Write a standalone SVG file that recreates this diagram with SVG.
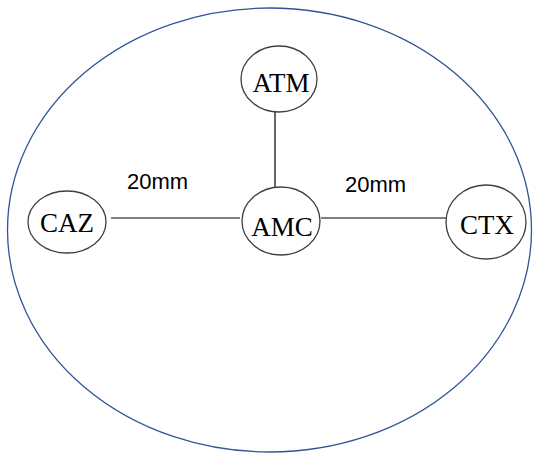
<svg xmlns="http://www.w3.org/2000/svg" width="534" height="457" viewBox="0 0 534 457">
<style>
.node ellipse{fill:#fff;stroke:#404040;stroke-width:1.3}
.node text{font-family:"Liberation Serif",serif;font-size:27px;fill:#000;text-anchor:middle}
.lbl{font-family:"Liberation Sans",Arial,sans-serif;font-size:22px;fill:#000}
.edge{stroke:#000;stroke-width:1.2}
</style>
<rect width="534" height="457" fill="#fff"/>
<ellipse id="boundary" cx="269.5" cy="230" rx="262" ry="222" fill="none" stroke="#2F5597" stroke-width="1.3"/>
<g id="connectors">
<line class="edge" x1="111" y1="218" x2="240" y2="218"/>
<line class="edge" x1="321" y1="218" x2="446" y2="218"/>
<line class="edge" x1="275" y1="112" x2="275" y2="188"/>
</g>
<g id="ATM" class="node"><ellipse cx="279" cy="79" rx="38" ry="33"/><text x="281" y="92">ATM</text></g>
<g id="CAZ" class="node"><ellipse cx="67" cy="222" rx="39" ry="31"/><text x="67" y="232">CAZ</text></g>
<g id="AMC" class="node"><ellipse cx="281" cy="221" rx="39" ry="34"/><text x="282" y="236">AMC</text></g>
<g id="CTX" class="node"><ellipse cx="486" cy="222" rx="40" ry="37"/><text x="487" y="234">CTX</text></g>
<text class="lbl" x="127" y="189">20mm</text>
<text class="lbl" x="345" y="192">20mm</text>
</svg>
